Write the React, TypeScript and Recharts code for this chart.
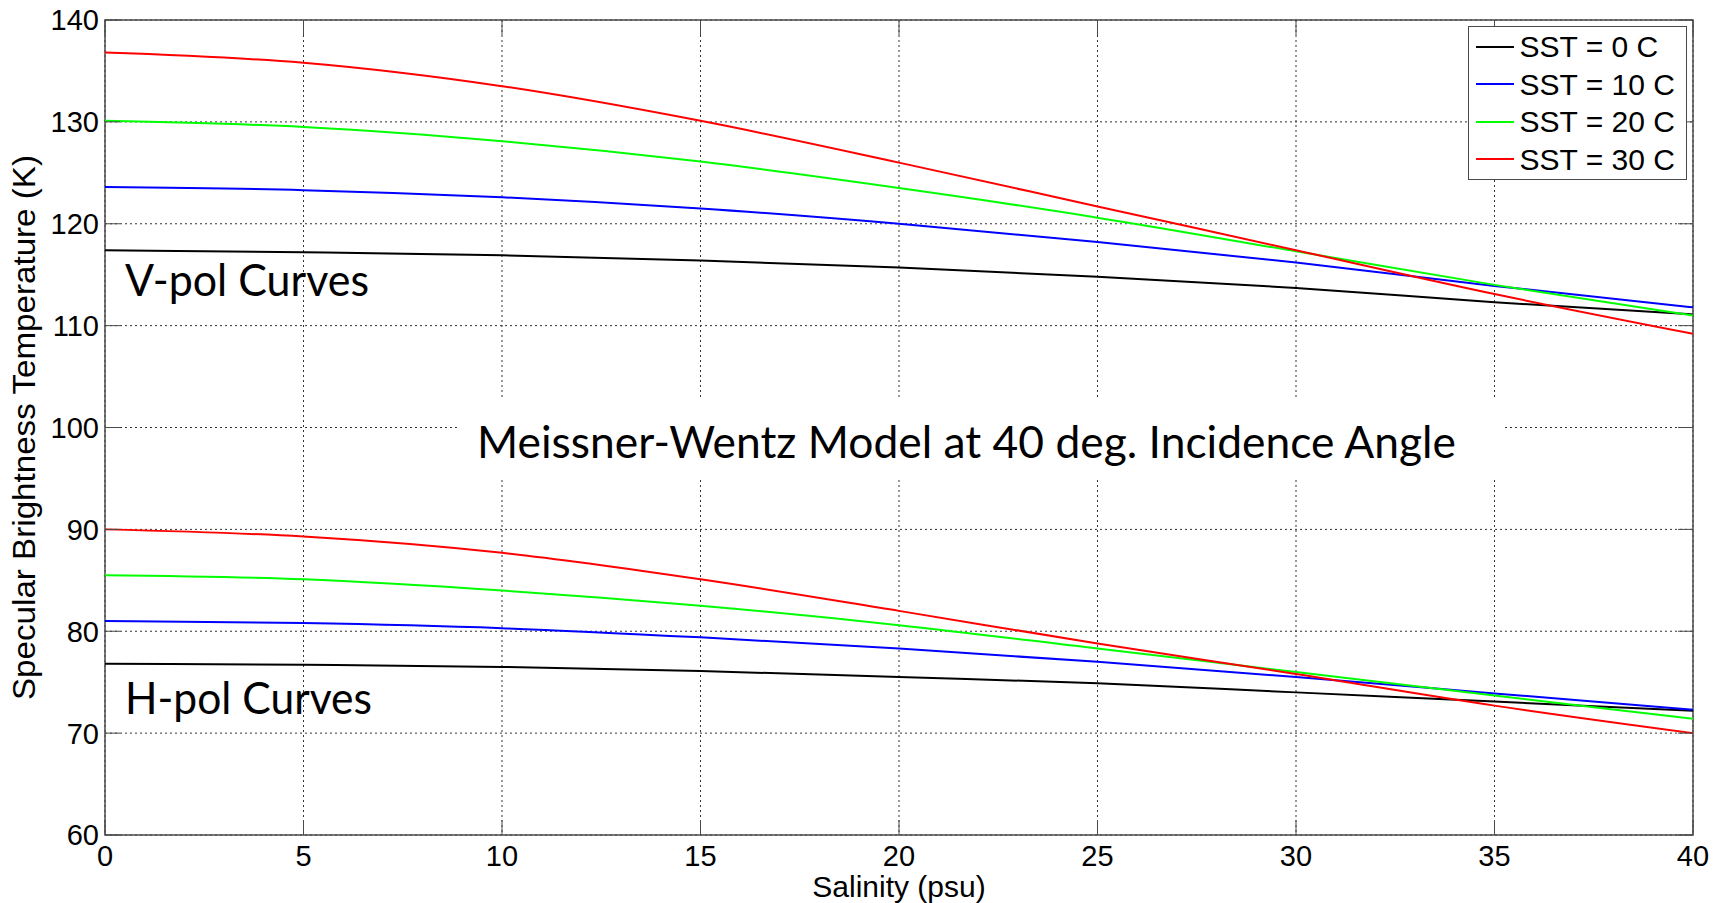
import React from 'react';
import { LineChart, Line, XAxis, YAxis, CartesianGrid, Legend, Customized } from 'recharts';

// Salinity samples (psu)
const salinity = [0, 5, 10, 15, 20, 25, 30, 35, 40];

// Specular brightness temperature (K), vertical polarisation
const vpolSst0 = [117.4, 117.2, 116.9, 116.4, 115.7, 114.8, 113.7, 112.3, 111.1];
const vpolSst10 = [123.6, 123.3, 122.6, 121.5, 120.0, 118.2, 116.2, 113.9, 111.8];
const vpolSst20 = [130.1, 129.5, 128.1, 126.1, 123.5, 120.6, 117.3, 114.0, 111.0];
const vpolSst30 = [136.8, 135.8, 133.5, 130.1, 126.0, 121.7, 117.4, 113.1, 109.2];

// Horizontal polarisation
const hpolSst0 = [76.8, 76.7, 76.5, 76.1, 75.5, 74.9, 74.0, 73.1, 72.2];
const hpolSst10 = [81.0, 80.8, 80.3, 79.4, 78.3, 77.0, 75.5, 73.9, 72.3];
const hpolSst20 = [85.5, 85.1, 84.0, 82.5, 80.6, 78.3, 76.0, 73.7, 71.4];
const hpolSst30 = [90.0, 89.3, 87.7, 85.1, 82.0, 78.8, 75.8, 72.7, 70.0];

const xTicks = [0, 5, 10, 15, 20, 25, 30, 35, 40];
const yTicks = [60, 70, 80, 90, 100, 110, 120, 130, 140];

const SERIES = [
  { id: '0', name: 'SST = 0 C', color: '#000000' },
  { id: '10', name: 'SST = 10 C', color: '#0000ff' },
  { id: '20', name: 'SST = 20 C', color: '#00ff00' },
  { id: '30', name: 'SST = 30 C', color: '#ff0000' },
];

const data = salinity.map((s, i) => ({
  s,
  v0: vpolSst0[i],
  v10: vpolSst10[i],
  v20: vpolSst20[i],
  v30: vpolSst30[i],
  h0: hpolSst0[i],
  h10: hpolSst10[i],
  h20: hpolSst20[i],
  h30: hpolSst30[i],
}));

const WIDTH = 1727;
const HEIGHT = 903;
const LEFT = 105;
const TOP = 20;
const RIGHT = 1693;
const BOTTOM = 835;
const TICK_LEN = 15;
const AXIS_COLOR = '#4a4a4a';
const FONT = '"Liberation Sans", Arial, sans-serif';
const NOTE_FONT = 'Lato, "Open Sans", sans-serif';

// matlab-style ticks: pointing inwards, on both sides of the box
const XTick = (props: any) => {
  const { x, payload } = props;
  return (
    <g>
      <line x1={x} x2={x} y1={BOTTOM} y2={BOTTOM - TICK_LEN} stroke={AXIS_COLOR} />
      <line x1={x} x2={x} y1={TOP} y2={TOP + TICK_LEN} stroke={AXIS_COLOR} />
      <text x={x} y={866} textAnchor="middle" fontSize={29} fontFamily={FONT} fill="#000">
        {payload.value}
      </text>
    </g>
  );
};

const YTick = (props: any) => {
  const { y, payload } = props;
  return (
    <g>
      <line x1={LEFT} x2={LEFT + TICK_LEN} y1={y} y2={y} stroke={AXIS_COLOR} />
      <line x1={RIGHT - TICK_LEN} x2={RIGHT} y1={y} y2={y} stroke={AXIS_COLOR} />
      <text x={99} y={y} dy="0.36em" textAnchor="end" fontSize={29} fontFamily={FONT} fill="#000">
        {payload.value}
      </text>
    </g>
  );
};

const Notes = () => (
  <g>
    <rect x={457} y={399} width={1045} height={80} fill="#fff" />
    <text x={477} y={458} fontSize={44} fontFamily={NOTE_FONT} textLength={979} lengthAdjust="spacingAndGlyphs" fill="#000">
      Meissner-Wentz Model at 40 deg. Incidence Angle
    </text>
    <text x={125} y={296} fontSize={44} fontFamily={NOTE_FONT} textLength={244} lengthAdjust="spacingAndGlyphs" fill="#000">
      V-pol Curves
    </text>
    <text x={125} y={714} fontSize={44} fontFamily={NOTE_FONT} textLength={247} lengthAdjust="spacingAndGlyphs" fill="#000">
      H-pol Curves
    </text>
  </g>
);

const Frame = () => (
  <g>
    <rect x={LEFT} y={TOP} width={RIGHT - LEFT} height={BOTTOM - TOP} fill="none" stroke={AXIS_COLOR} strokeWidth={1.5} />
    <text x={(LEFT + RIGHT) / 2} y={897} textAnchor="middle" fontSize={30} fontFamily={FONT} fill="#000">
      Salinity (psu)
    </text>
    <text
      transform={`translate(35, ${(TOP + BOTTOM) / 2}) rotate(-90)`}
      textAnchor="middle"
      fontSize={31}
      fontFamily={FONT}
      textLength={545}
      lengthAdjust="spacingAndGlyphs"
      fill="#000"
    >
      Specular Brightness Temperature (K)
    </text>
  </g>
);

const LegendBox = () => (
  <div
    style={{
      width: 219,
      height: 154,
      boxSizing: 'border-box',
      border: `1.5px solid ${AXIS_COLOR}`,
      background: '#fff',
      paddingTop: 1,
      paddingLeft: 6.5,
      fontFamily: FONT,
      fontSize: 30,
      color: '#000',
    }}
  >
    {SERIES.map((s) => (
      <div key={s.id} style={{ display: 'flex', alignItems: 'center', height: 37.5, lineHeight: '37.5px' }}>
        <div style={{ width: 38, height: 0, borderTop: `2px solid ${s.color}`, marginRight: 6 }} />
        <span style={{ whiteSpace: 'nowrap' }}>{s.name}</span>
      </div>
    ))}
  </div>
);

export default function App() {
  return (
    <div style={{ position: 'absolute', left: 0, top: 0, background: '#fff' }}>
      <LineChart width={WIDTH} height={HEIGHT} data={data} margin={{ top: TOP, right: WIDTH - RIGHT, left: 0, bottom: 0 }}>
        <CartesianGrid stroke="#333" strokeDasharray="2 3" />
        <XAxis
          dataKey="s"
          type="number"
          domain={[0, 40]}
          ticks={xTicks}
          interval={0}
          height={HEIGHT - BOTTOM}
          axisLine={false}
          tickLine={false}
          tick={<XTick />}
        />
        <YAxis
          type="number"
          domain={[60, 140]}
          ticks={yTicks}
          interval={0}
          width={LEFT}
          axisLine={false}
          tickLine={false}
          tick={<YTick />}
        />
        <Customized component={Notes} />
        {SERIES.map((s) => (
          <Line
            key={`v${s.id}`}
            type="monotone"
            dataKey={`v${s.id}`}
            stroke={s.color}
            strokeWidth={2}
            dot={false}
            isAnimationActive={false}
            legendType="none"
          />
        ))}
        {SERIES.map((s) => (
          <Line
            key={`h${s.id}`}
            type="monotone"
            dataKey={`h${s.id}`}
            stroke={s.color}
            strokeWidth={2}
            dot={false}
            isAnimationActive={false}
            legendType="none"
          />
        ))}
        <Customized component={Frame} />
        <Legend
          layout="horizontal"
          verticalAlign="middle"
          align="center"
          content={() => <LegendBox />}
          wrapperStyle={{ position: 'absolute', left: 1468, top: 26, width: 219, height: 154 }}
        />
      </LineChart>
    </div>
  );
}
